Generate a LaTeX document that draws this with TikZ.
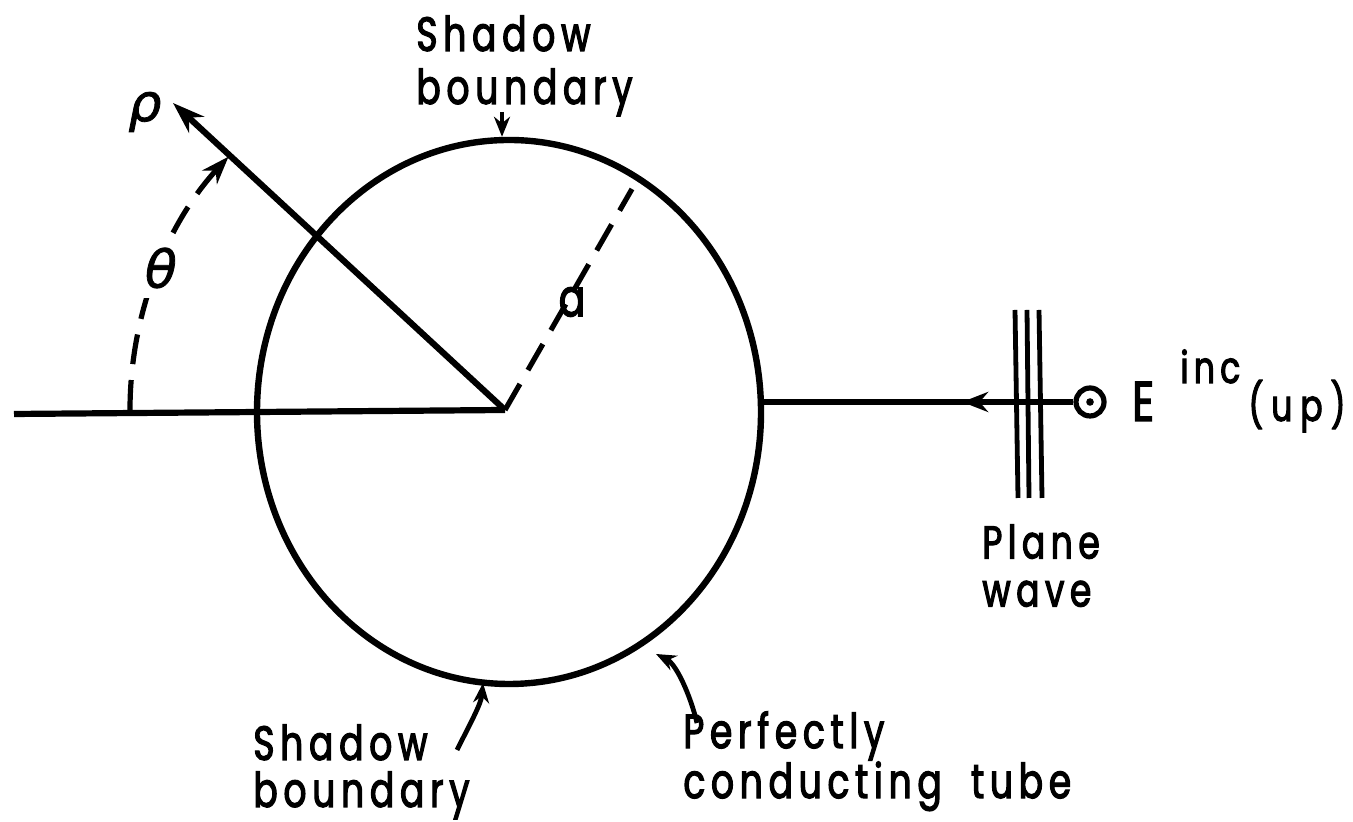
\documentclass[tikz,border=0pt]{standalone}
\usepackage{fontspec}
\setmainfont{Poppins}[FakeStretch=0.75, LetterSpace=12, FakeBold=2.5]
\newfontfamily\greekfont{DejaVu Sans}[FakeSlant=0.2, FakeBold=1.5]
\usetikzlibrary{arrows.meta, decorations.markings, shapes.geometric}
\begin{document}
\begin{tikzpicture}[x=0.5pt, y=0.5pt,
  mainline/.style={line width=3.1pt},
  dashline/.style={line width=2.6pt, dash pattern=on 15pt off 8pt},
  lbl/.style={inner sep=0pt, align=left, anchor=north west},
  ptr/.style={line width=2.4pt, -{Stealth[length=10pt,width=8pt]}},
  greek/.style={inner sep=0pt, font=\greekfont\fontsize{26}{26}\selectfont},
]
\useasboundingbox (0,0) rectangle (1353,822);
% tube
\node[draw, line width=3.2pt, ellipse, minimum width=252pt, minimum height=272pt, inner sep=0pt] (tube) at (509,410) {};
\coordinate (O) at (505,412);
% axis
\coordinate (Lstart) at (14,408);
\draw[mainline] (Lstart) -- (O);
% rho
\coordinate (rhotip) at (173,719);
\draw[mainline, -{Stealth[length=16pt,width=11pt]}] (O) -- (rhotip);
\node[greek] (rholbl) at (143,710) {ρ};
% theta arc
\coordinate (thstart) at (130,412);
\draw[dashline, -{Stealth[length=14pt,width=10pt]}] (thstart) arc[start angle=180, end angle=137.5, radius=375];
\node[greek, fill=white, inner sep=5pt] (thlbl) at (157,554) {θ};
% radius a
\coordinate (aend) at (632,633);
\draw[dashline] (O) -- (aend);
\node[inner sep=0pt, font=\fontsize{26}{26}\selectfont] (albl) at (572,520) {a};
% top shadow boundary
\coordinate (sbtail) at (502,710);
\draw[ptr] (sbtail) -- (sbtail |- tube.north);
\node[lbl, font=\fontsize{24}{26.5}\selectfont] (sbtop) at (416,807) {Shadow\\boundary};
% bottom shadow boundary
\coordinate (sbltail) at (457,72);
\coordinate (sbltip) at (483,139);
\draw[ptr] (sbltail) .. controls (471,100) and (481,118) .. (sbltip);
\node[lbl, font=\fontsize{24}{23.5}\selectfont] (sbbot) at (253,98) {Shadow\\boundary};
% perfectly conducting tube
\coordinate (pctail) at (697,99);
\coordinate (pctip) at (656,168);
\draw[ptr] (pctail) .. controls (690,128) and (676,158) .. (pctip);
\node[lbl, font=\fontsize{24}{25}\selectfont] (pclbl) at (683,111) {Perfectly\\conducting\hspace{7pt} tube};
% plane wave
\coordinate (pw1t) at (1015,512); \coordinate (pw1b) at (1018,324);
\coordinate (pw2t) at (1027,512); \coordinate (pw2b) at (1029,324);
\coordinate (pw3t) at (1039,512); \coordinate (pw3b) at (1042,324);
\draw[line width=2.4pt] (pw1t) -- (pw1b);
\draw[line width=2.4pt] (pw2t) -- (pw2b);
\draw[line width=2.4pt] (pw3t) -- (pw3b);
\node[lbl, font=\fontsize{23}{24}\selectfont] (pwlbl) at (982,298) {Plane\\wave};
% incident field
\node[draw, circle, line width=2.6pt, minimum size=14pt, inner sep=0pt] (dot) at (1090,420) {};
\fill (dot.center) circle[radius=1.9pt];
\draw[mainline, postaction={decorate}, decoration={markings, mark=at position 0.36 with {\arrow{Stealth[length=13pt,width=10pt]}}}] (dot.west) -- (dot -| tube.east);
\node[inner sep=0pt, anchor=base west] (einc) at (1132,401) {\makebox[24pt][l]{\fontsize{28}{28}\selectfont E}\makebox[34pt][l]{\raisebox{19pt}{\fontsize{22}{22}\selectfont inc}}{\fontsize{22}{22}\selectfont\addfontfeatures{LetterSpace=18}(up)}};
\end{tikzpicture}
\end{document}
